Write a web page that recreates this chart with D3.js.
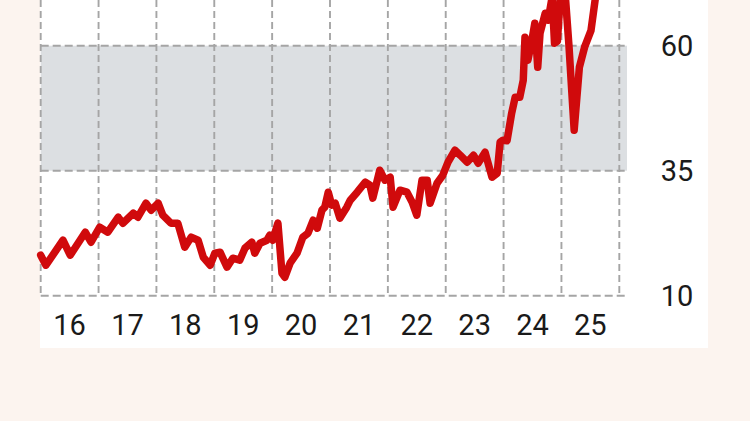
<!DOCTYPE html>
<html>
<head>
<meta charset="utf-8">
<script src="https://cdn.jsdelivr.net/npm/d3@7"></script>
<style>
  html, body { margin: 0; padding: 0; background: #fcf4ef; }
  svg { display: block; }
</style>
</head>
<body>
<svg id="chart" width="750" height="421"></svg>
<script>
// decimal years
const years = [
  2016.00, 2016.09, 2016.385, 2016.51, 2016.77, 2016.87, 2017.02, 2017.16, 2017.34, 2017.42,
  2017.60, 2017.68, 2017.82, 2017.91, 2018.03, 2018.11, 2018.25, 2018.37, 2018.49, 2018.60,
  2018.72, 2018.81, 2018.93, 2019.01, 2019.10, 2019.22, 2019.32, 2019.44, 2019.53, 2019.65,
  2019.70, 2019.79, 2019.91, 2019.96, 2020.01, 2020.10, 2020.17, 2020.22, 2020.31, 2020.43,
  2020.53, 2020.62, 2020.71, 2020.78, 2020.86, 2020.91, 2020.97, 2021.03, 2021.09, 2021.17,
  2021.29, 2021.35, 2021.47, 2021.61, 2021.69, 2021.74, 2021.86, 2021.95, 2022.04, 2022.09,
  2022.21, 2022.33, 2022.42, 2022.50, 2022.59, 2022.68, 2022.73, 2022.85, 2022.95, 2023.04,
  2023.16, 2023.25, 2023.37, 2023.48, 2023.56, 2023.68, 2023.80, 2023.89, 2023.94, 2023.99,
  2024.06, 2024.14, 2024.20, 2024.28, 2024.34, 2024.37, 2024.42, 2024.49, 2024.54, 2024.59,
  2024.63, 2024.72, 2024.77, 2024.84, 2024.88, 2024.93, 2024.98, 2025.07, 2025.13, 2025.22,
  2025.31, 2025.40, 2025.51, 2025.59, 2025.65
];
const values = [
  18.1, 16.1, 21.1, 18.1, 22.7, 20.7, 23.7, 22.7, 25.7, 24.5,
  26.5, 25.7, 28.5, 27.1, 28.5, 26.1, 24.5, 24.5, 19.7, 21.7,
  21.1, 17.7, 16.1, 18.5, 18.7, 15.7, 17.5, 17.1, 19.5, 20.7,
  18.5, 20.5, 21.1, 22.1, 21.1, 24.5, 14.5, 13.7, 16.5, 18.5,
  21.7, 22.5, 25.1, 23.5, 27.1, 27.7, 30.7, 28.1, 28.5, 25.5,
  27.7, 29.1, 30.7, 32.7, 32.1, 29.5, 35.1, 33.1, 33.7, 27.7,
  31.1, 30.7, 28.7, 26.1, 33.1, 33.1, 28.5, 32.5, 34.1, 36.7,
  39.1, 38.1, 36.7, 38.1, 36.5, 38.7, 33.7, 34.5, 40.7, 41.1,
  41.0, 46.5, 49.7, 49.7, 53.1, 61.7, 57.1, 61.1, 64.5, 55.7,
  62.5, 66.5, 65.1, 69.8, 60.5, 60.9, 69.8, 69.5, 60.0, 43.1,
  55.7, 59.7, 63.0, 69.8, 73.0
];
const yearTicks = [2016, 2017, 2018, 2019, 2020, 2021, 2022, 2023, 2024, 2025];
const yearLabels = ["16", "17", "18", "19", "20", "21", "22", "23", "24", "25"];
const gridYears = [2016, 2017, 2018, 2019, 2020, 2021, 2022, 2023, 2024, 2025, 2026];
const yTicks = [10, 35, 60];
const band = [35, 60];

const svg = d3.select("#chart");
const x = d3.scaleLinear().domain([2016, 2026]).range([40.7, 619.3]);
const xEnd = 627;
const y = d3.scaleLinear().domain([10, 60]).range([295.7, 45.7]);

// white panel
svg.append("rect").attr("x", 40).attr("y", 0).attr("width", 668).attr("height", 348).attr("fill", "#ffffff");

// shaded band
svg.append("rect")
  .attr("x", x(2016)).attr("width", xEnd - x(2016))
  .attr("y", y(band[1])).attr("height", y(band[0]) - y(band[1]))
  .attr("fill", "#dcdfe2");

const gridColor = "#a5a5a5";
// horizontal dashed gridlines
svg.append("g").selectAll("line").data(yTicks).join("line")
  .attr("x1", x(2016)).attr("x2", xEnd)
  .attr("y1", d => y(d)).attr("y2", d => y(d))
  .attr("stroke", gridColor).attr("stroke-width", 1.9).attr("stroke-dasharray", "8,4");

// vertical dashed gridlines
svg.append("g").selectAll("line").data(gridYears).join("line")
  .attr("x1", d => x(d)).attr("x2", d => x(d))
  .attr("y1", 0).attr("y2", y(10))
  .attr("stroke", gridColor).attr("stroke-width", 1.9).attr("stroke-dasharray", "7,4");

// line
const data = years.map((t, i) => ({ t, v: values[i] }));
svg.append("path")
  .datum(data)
  .attr("fill", "none")
  .attr("stroke", "#d00a0c")
  .attr("stroke-width", 7.5)
  .attr("stroke-linejoin", "round")
  .attr("stroke-linecap", "round")
  .attr("d", d3.line().x(d => x(d.t)).y(d => y(d.v)));

const font = "Roboto, 'Noto Sans', sans-serif";
// x labels
svg.append("g").selectAll("text").data(yearTicks).join("text")
  .attr("x", d => x(d + 0.5))
  .attr("y", 335)
  .attr("text-anchor", "middle")
  .attr("font-family", font)
  .attr("font-size", 29)
  .attr("fill", "#1a1a1a")
  .text((d, i) => yearLabels[i]);

// y labels
svg.append("g").selectAll("text").data(yTicks).join("text")
  .attr("x", 677)
  .attr("y", d => y(d))
  .attr("dy", "0.36em")
  .attr("text-anchor", "middle")
  .attr("font-family", font)
  .attr("font-size", 29)
  .attr("fill", "#1a1a1a")
  .text(d => d);
</script>
</body>
</html>
